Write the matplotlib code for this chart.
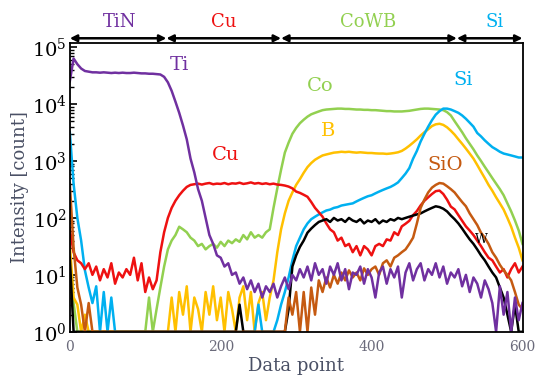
import matplotlib
matplotlib.use("Agg")
import matplotlib.pyplot as plt
import numpy as np

plt.rcParams['font.family'] = ['DejaVu Serif']
plt.rcParams['mathtext.fontset'] = 'dejavuserif'

data_point = list(range(0, 601, 5))

ti = [25000, 63000, 50000, 42000, 38000, 37000, 36000, 36000, 35500, 36000,
      35500, 35000, 35500, 35000, 35500, 35000, 35000, 35500, 35000, 34500,
      34500, 34000, 34000, 33500, 33000, 30000, 24000, 17000, 11000, 7000,
      4200, 2400, 1100, 630, 320, 200, 100, 50, 35, 22,
      20, 14, 16, 10, 11, 7, 9, 5.6, 8, 5,
      7, 4, 6.3, 5, 7, 4, 6.3, 9, 5.6, 10,
      8, 12.6, 9, 14, 8, 16, 10, 12.6, 7, 14,
      10, 16, 8, 12.6, 5.6, 11, 10, 14, 7, 12.6,
      9, 4, 11, 14, 7, 12.6, 9, 14, 4, 11,
      16, 8, 12.6, 16, 8, 12.6, 10, 16, 9, 14,
      7, 11, 9, 12.6, 6.3, 10, 5, 9, 7, 4,
      8, 5.6, 3.2, 1, 6.3, 2, 5, 1, 4, 1.6,
      3.2]

cu = [63, 25, 18, 16, 12.6, 16, 10, 14, 8, 12.6,
      9, 16, 7, 11, 9, 12.6, 10, 20, 8, 16,
      5, 9, 5.6, 8, 25, 56, 100, 150, 200, 250,
      300, 350, 380, 390, 400, 385, 400, 410, 390, 400,
      395, 410, 390, 405, 400, 415, 395, 405, 420, 400,
      410, 395, 405, 390, 400, 385, 380, 370, 355, 330,
      290, 275, 255, 235, 190, 150, 126, 105, 80, 63,
      56, 40, 45, 32, 35, 25, 32, 22, 32, 28,
      22, 32, 35, 32, 42, 40, 56, 50, 71, 79,
      89, 112, 132, 166, 200, 230, 263, 295, 302, 263,
      209, 158, 141, 112, 89, 71, 60, 50, 40, 32,
      25, 20, 18, 14, 11, 12.6, 9, 12.6, 16, 11,
      14]

co = [20, 3.2, 1, 1, 1, 1, 1, 1, 1, 1,
      1, 1, 1, 1, 1, 1, 1, 1, 1, 1,
      1, 4, 1, 2.5, 6, 14, 28, 40, 50, 70,
      63, 56, 45, 40, 32, 35, 28, 32, 35, 30,
      38, 32, 40, 36, 42, 38, 50, 42, 56, 45,
      50, 45, 56, 63, 150, 330, 700, 1400, 2100, 3000,
      3800, 4600, 5300, 6000, 6600, 7000, 7400, 7800, 8000, 8100,
      8200, 8300, 8300, 8200, 8200, 8100, 8000, 8000, 7900, 7900,
      7800, 7800, 7700, 7600, 7500, 7500, 7400, 7400, 7400, 7500,
      7600, 7800, 8000, 8200, 8300, 8300, 8200, 8100, 8000, 7800,
      7200, 6300, 5000, 4000, 3200, 2500, 2000, 1600, 1250, 1000,
      790, 630, 500, 400, 320, 250, 180, 130, 90, 60,
      35]

b = [35, 4, 3, 1, 2, 1, 1, 1, 1, 1,
     1, 1, 1, 1, 1, 1, 1, 1, 1, 1,
     1, 1, 1, 1, 1, 1, 1, 4, 1, 5,
     2, 6.3, 1, 4, 2.5, 1, 5, 2, 6.3, 1.6,
     4, 1, 5, 2.5, 1, 4, 6.3, 1.6, 5, 1,
     3.2, 5, 1.6, 4, 8, 25, 63, 120, 200, 280,
     380, 480, 620, 780, 920, 1050, 1150, 1250, 1300, 1350,
     1400, 1420, 1450, 1430, 1450, 1420, 1400, 1420, 1400, 1380,
     1380, 1360, 1350, 1350, 1330, 1350, 1380, 1420, 1500, 1650,
     1850, 2100, 2400, 2800, 3200, 3600, 4100, 4400, 4500, 4300,
     3900, 3400, 2900, 2400, 2000, 1650, 1350, 1100, 850, 650,
     500, 380, 300, 230, 180, 140, 100, 70, 45, 30,
     18]

si = [3200, 400, 100, 40, 12, 6, 3.2, 6.3, 1, 5,
      1, 4, 1, 1, 1, 1, 1, 1, 1, 1,
      1, 1, 1, 1, 1, 1, 1, 1, 1, 1,
      1, 1, 1, 1, 1, 1, 1, 1, 1, 1,
      1, 1, 1, 1, 1, 1, 1, 1, 1, 1,
      3, 1, 1, 1, 1, 1.6, 3, 5, 9, 18,
      32, 45, 63, 80, 95, 105, 115, 125, 135, 140,
      150, 155, 165, 170, 175, 180, 195, 210, 225, 240,
      250, 270, 290, 310, 330, 350, 380, 420, 500, 600,
      750, 1100, 1500, 2200, 3000, 4000, 5200, 6500, 7500, 8300,
      8300, 8000, 7500, 7000, 6300, 5500, 4700, 4000, 3100, 2700,
      2300, 2000, 1750, 1600, 1450, 1350, 1300, 1250, 1200, 1150,
      1150]

sio = [400, 30, 6, 3, 1, 3.2, 1, 1, 1, 1,
       1, 1, 1, 1, 1, 1, 1, 1, 1, 1,
       1, 1, 1, 1, 1, 1, 1, 1, 1, 1,
       1, 1, 1, 1, 1, 1, 1, 1, 1, 1,
       1, 1, 1, 1, 1, 1, 1, 1, 1, 1,
       1, 1, 1, 1, 1, 1, 1, 1, 4, 2,
       5, 1, 5, 1, 6, 2, 8, 5, 9, 6,
       10, 7, 11, 8, 12, 9, 11, 8, 13, 10,
       12.6, 14, 10, 16, 18, 14, 20, 22, 25, 28,
       35, 45, 80, 150, 210, 280, 340, 380, 410, 400,
       360, 320, 280, 230, 190, 160, 120, 95, 75, 55,
       45, 35, 25, 20, 15, 12, 10, 8, 5, 3,
       2.5]

w = [20, 1, 1, 1, 1, 1, 1, 1, 1, 1,
     1, 1, 1, 1, 1, 1, 1, 1, 1, 1,
     1, 1, 1, 1, 1, 1, 1, 1, 1, 1,
     1, 1, 1, 1, 1, 1, 1, 1, 1, 1,
     1, 1, 1, 1, 1, 3, 1, 1, 1, 1,
     1, 1, 1, 1, 1, 1, 1, 1, 2.5, 14,
     22, 31, 40, 55, 65, 75, 85, 90, 95, 85,
     100, 90, 95, 85, 100, 90, 85, 95, 80, 90,
     85, 95, 80, 90, 85, 95, 90, 100, 95, 100,
     105, 110, 115, 120, 130, 140, 150, 160, 155, 145,
     130, 110, 95, 80, 65, 52, 42, 35, 28, 22,
     18, 14, 11, 9, 6, 4, 2, 1, 3, 1,
     1]

layer_names = ['TiN', 'Cu', 'CoWB', 'Si']
layer_bounds = [0, 128, 280, 513, 600]
layer_label_x = [66, 204, 396, 563]

PURPLE = '#7030a0'
RED = '#ee1111'
GREEN = '#92d050'
YELLOW = '#ffc000'
BLUE = '#00b0f0'
BROWN = '#c55a11'
BLACK = '#000000'
layer_colors = [PURPLE, RED, GREEN, BLUE]

fig = plt.figure(figsize=(5.37, 3.89), dpi=100)
ax = fig.add_axes([0.130, 0.147, 0.843, 0.742])

lw = 1.8
ax.plot(data_point, co, color=GREEN, lw=lw)
ax.plot(data_point, b, color=YELLOW, lw=lw)
ax.plot(data_point, si, color=BLUE, lw=lw)
ax.plot(data_point, cu, color=RED, lw=lw)
ax.plot(data_point, w, color=BLACK, lw=lw)
ax.plot(data_point, sio, color=BROWN, lw=lw)
ax.plot(data_point, ti, color=PURPLE, lw=lw)

ax.set_yscale('log')
ax.set_xlim(0, 600)
ax.set_ylim(1, 1.17e5)
ax.set_xticks([0, 200, 400, 600])
ax.set_yticks([1, 10, 100, 1000, 1e4, 1e5])
ax.set_yticklabels([r'$10^{0}$', r'$10^{1}$', r'$10^{2}$', r'$10^{3}$', r'$10^{4}$', r'$10^{5}$'])
ax.tick_params(axis='y', which='major', direction='in', labelsize=14, length=5, width=1.2, colors='black', pad=2)
ax.tick_params(axis='y', which='minor', direction='in', length=3, width=1.0)
ax.tick_params(axis='x', which='major', direction='in', labelsize=10, length=0, labelcolor='#6b6b7b', pad=6)
for s in ax.spines.values():
    s.set_linewidth(1.3)
    s.set_color('black')

label_color = '#4a5065'
ax.set_xlabel('Data point', fontsize=13, color=label_color, labelpad=2)
ax.set_ylabel('Intensity [count]', fontsize=13, color=label_color, labelpad=2)

# layer arrows above the plot
for i, name in enumerate(layer_names):
    ax.annotate('', xy=(layer_bounds[i], 1.017), xytext=(layer_bounds[i + 1], 1.017),
                xycoords=('data', 'axes fraction'), textcoords=('data', 'axes fraction'),
                arrowprops=dict(arrowstyle='<|-|>', color='black', lw=1.8,
                                mutation_scale=10, shrinkA=0, shrinkB=0),
                annotation_clip=False)
    ax.text(layer_label_x[i], 1.075, name, transform=ax.get_xaxis_transform(),
            ha='center', va='center', fontsize=13, color=layer_colors[i])

# species labels
ax.text(145, 48000, 'Ti', color=PURPLE, fontsize=14, ha='center', va='center')
ax.text(206, 1260, 'Cu', color=RED, fontsize=14, ha='center', va='center')
ax.text(332, 21000, 'Co', color=GREEN, fontsize=14, ha='center', va='center')
ax.text(343, 3400, 'B', color=YELLOW, fontsize=14, ha='center', va='center')
ax.text(521, 26000, 'Si', color=BLUE, fontsize=14, ha='center', va='center')
ax.text(497, 850, 'SiO', color=BROWN, fontsize=14, ha='center', va='center')
ax.text(545, 41, 'W', color=BLACK, fontsize=9, ha='center', va='center')

fig.savefig('out.png', dpi=100)
